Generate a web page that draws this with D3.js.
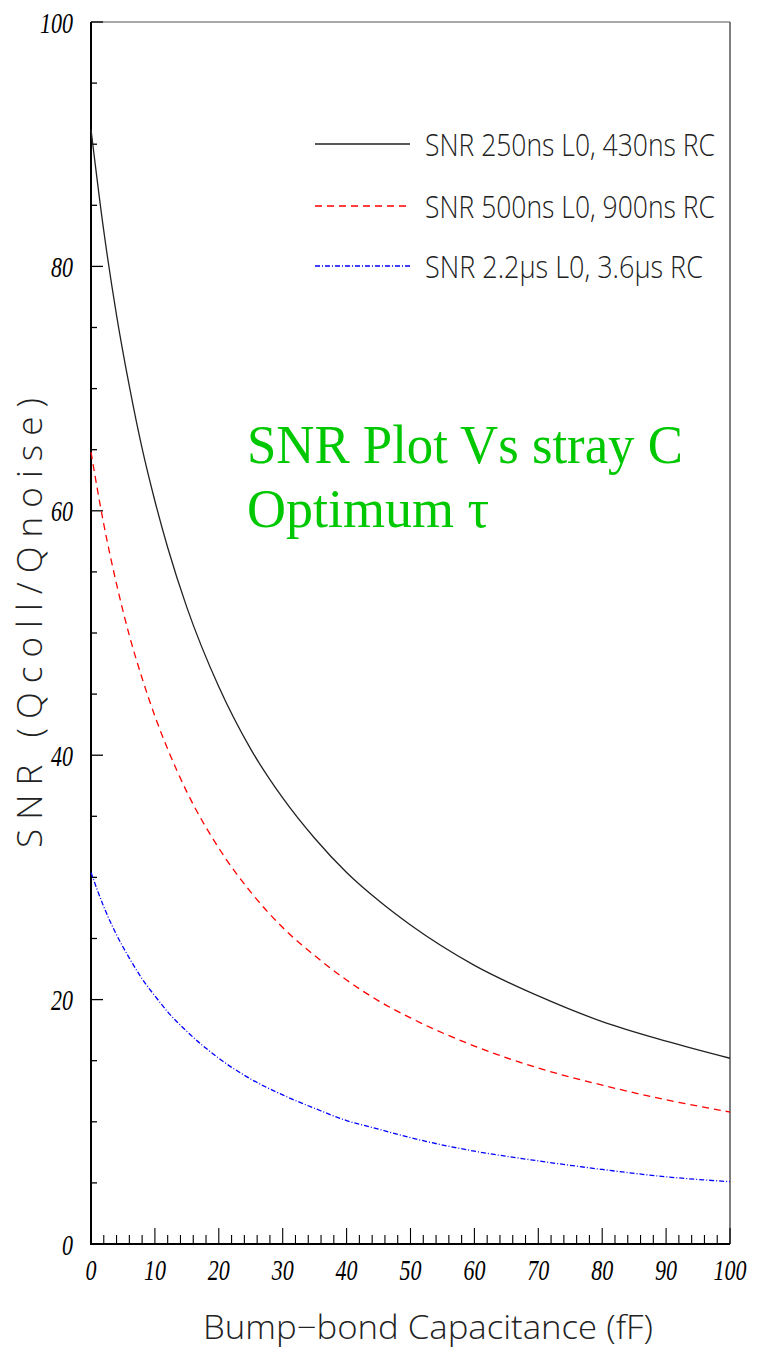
<!DOCTYPE html>
<html>
<head>
<meta charset="utf-8">
<script src="https://cdn.jsdelivr.net/npm/d3@7"></script>
<style>
  html, body { margin: 0; padding: 0; background: #fff; }
  svg { display: block; }
  .tick-label { font-family: "Liberation Serif", "Times New Roman", serif; font-style: italic; font-size: 30px; fill: #000; }
  .thin { font-family: "Open Sans", "DejaVu Sans", sans-serif; font-weight: 300; fill: #222; }
  .note { font-family: "Liberation Serif", "Times New Roman", serif; font-size: 54px; fill: rgb(0,200,0); }
</style>
</head>
<body>
<svg id="chart" width="761" height="1351"></svg>
<script>
// Bump-bond capacitance (fF)
const capacitance = [0, 2, 4, 6, 8, 10, 12, 15, 20, 25, 30, 35, 40, 45, 50, 60, 70, 80, 90, 100];
// SNR for the three shaping configurations
const snr250 = [91.2, 82.9, 76.0, 70.2, 65.1, 60.8, 57.0, 52.1, 45.6, 40.5, 36.5, 33.2, 30.4, 28.1, 26.1, 22.8, 20.3, 18.2, 16.6, 15.2];
const snr500 = [64.8, 58.9, 54.0, 49.8, 46.3, 43.2, 40.5, 37.0, 32.4, 28.8, 25.9, 23.6, 21.6, 19.9, 18.5, 16.2, 14.4, 13.0, 11.8, 10.8];
const snr2200 = [30.4, 27.6, 25.3, 23.4, 21.7, 20.3, 19.0, 17.4, 15.2, 13.5, 12.2, 11.1, 10.1, 9.4, 8.7, 7.6, 6.8, 6.1, 5.5, 5.1];

const xTicks = [0, 10, 20, 30, 40, 50, 60, 70, 80, 90, 100];
const yTicks = [0, 20, 40, 60, 80, 100];
const legendLabels = ["SNR 250ns L0, 430ns RC", "SNR 500ns L0, 900ns RC", "SNR 2.2\u03bcs L0, 3.6\u03bcs RC"];

const svg = d3.select("#chart");
const plotLeft = 91, plotRight = 730, plotTop = 22, plotBottom = 1244;

const x = d3.scaleLinear().domain([0, 100]).range([plotLeft, plotRight]);
const y = d3.scaleLinear().domain([0, 100]).range([plotBottom, plotTop]);

// squeeze a text horizontally so that it spans the given width
function fitWidth(sel, width, px, py) {
  const natural = sel.node().getComputedTextLength();
  const k = width / natural;
  sel.attr("x", 0).attr("y", 0)
    .attr("transform", `translate(${px},${py}) scale(${k},1)`);
}

// frame: top and right sides thin grey
svg.append("line").attr("x1", plotLeft).attr("x2", plotRight).attr("y1", plotTop).attr("y2", plotTop)
  .attr("stroke", "#555").attr("stroke-width", 1.2);
svg.append("line").attr("x1", plotRight).attr("x2", plotRight).attr("y1", plotTop).attr("y2", plotBottom)
  .attr("stroke", "#555").attr("stroke-width", 1.5);

// ticks on the y axis: minor every 5, major every 20
const yMinor = d3.range(0, 101, 5);
svg.append("g").selectAll("line").data(yMinor).join("line")
  .attr("x1", plotLeft).attr("x2", d => plotLeft + (d % 20 === 0 ? 12 : 6))
  .attr("y1", d => y(d)).attr("y2", d => y(d))
  .attr("stroke", "#000").attr("stroke-width", 1.3);

// ticks on the x axis: minor every 2, major every 10
const xMinor = d3.range(0, 101, 2);
svg.append("g").selectAll("line").data(xMinor).join("line")
  .attr("x1", d => x(d)).attr("x2", d => x(d))
  .attr("y1", plotBottom).attr("y2", d => plotBottom - (d % 10 === 0 ? 16 : 9))
  .attr("stroke", "#000").attr("stroke-width", 1.1);

// main axes
svg.append("line").attr("x1", plotLeft).attr("x2", plotLeft).attr("y1", plotTop).attr("y2", plotBottom)
  .attr("stroke", "#000").attr("stroke-width", 2);
svg.append("line").attr("x1", plotLeft - 1).attr("x2", plotRight).attr("y1", plotBottom).attr("y2", plotBottom)
  .attr("stroke", "#000").attr("stroke-width", 2);

// tick labels
svg.append("g").selectAll("text").data(yTicks).join("text")
  .attr("class", "tick-label")
  .attr("x", 73).attr("y", d => y(d) + 10.5)
  .attr("text-anchor", "end")
  .attr("textLength", d => String(d).length * 11)
  .attr("lengthAdjust", "spacingAndGlyphs")
  .text(d => d);

svg.append("g").selectAll("text").data(xTicks).join("text")
  .attr("class", "tick-label")
  .attr("x", d => x(d)).attr("y", 1280)
  .attr("text-anchor", "middle")
  .attr("textLength", d => String(d).length * 11)
  .attr("lengthAdjust", "spacingAndGlyphs")
  .text(d => d);

// axis titles
svg.append("text").attr("class", "thin")
  .attr("x", 428).attr("y", 1339)
  .attr("text-anchor", "middle")
  .attr("font-size", 33)
  .attr("textLength", 450).attr("lengthAdjust", "spacingAndGlyphs")
  .text("Bump\u2212bond Capacitance (fF)");

svg.append("text").attr("class", "thin")
  .attr("transform", "translate(42,623) rotate(-90)")
  .attr("text-anchor", "middle")
  .attr("font-size", 35)
  .attr("textLength", 450).attr("lengthAdjust", "spacing")
  .text("SNR (Qcoll/Qnoise)");

// curves
const series = [
  { values: snr250, color: "#222", dash: null, width: 1.3 },
  { values: snr500, color: "#ff0000", dash: "7,5", width: 1.3 },
  { values: snr2200, color: "#0000ff", dash: "5,2,1,2", width: 1.3 }
];

const line = d3.line()
  .x(d => x(d[0]))
  .y(d => y(d[1]))
  .curve(d3.curveMonotoneX);

series.forEach(s => {
  svg.append("path")
    .datum(capacitance.map((c, i) => [c, s.values[i]]))
    .attr("fill", "none")
    .attr("stroke", s.color)
    .attr("stroke-width", s.width)
    .attr("stroke-dasharray", s.dash)
    .attr("d", line);
});

// legend
const legendY = [144, 206, 266];
series.forEach((s, i) => {
  svg.append("line")
    .attr("x1", 315).attr("x2", 410)
    .attr("y1", legendY[i]).attr("y2", legendY[i])
    .attr("stroke", s.color).attr("stroke-width", 1.3)
    .attr("stroke-dasharray", s.dash);
  const t = svg.append("text").attr("class", "thin")
    .attr("font-size", 32)
    .text(legendLabels[i]);
  fitWidth(t, i === 2 ? 278 : 290, 425, legendY[i] + 12);
});

// annotation
const note1 = svg.append("text").attr("class", "note").text("SNR Plot Vs stray C");
fitWidth(note1, 436, 247, 463);
svg.append("text").attr("class", "note").attr("x", 247).attr("y", 527).text("Optimum \u03c4");
</script>
</body>
</html>
